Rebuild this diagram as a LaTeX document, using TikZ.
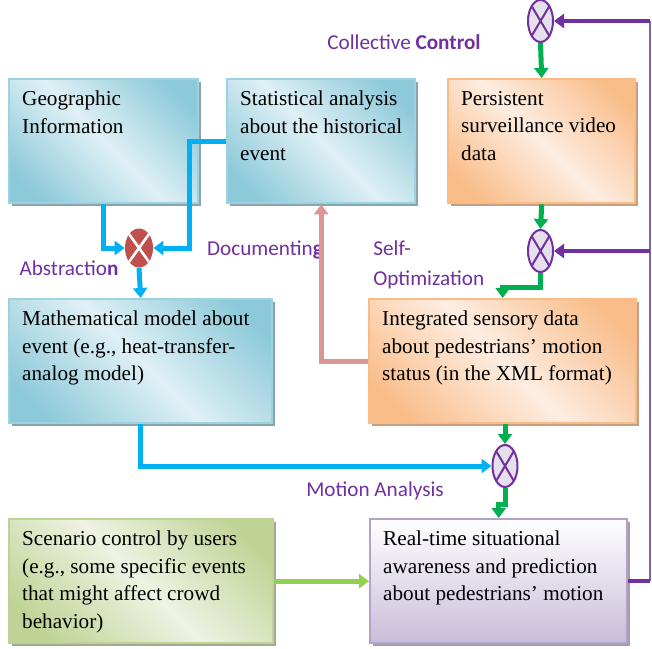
\documentclass[tikz,border=0pt]{standalone}
\usepackage{fontspec}
\setmainfont{Liberation Serif}[Ligatures=TeX]
\newfontfamily\boxfont{Liberation Serif}[Ligatures=TeX]
\newfontfamily\labelfont{Carlito}
\usetikzlibrary{shapes.geometric,shadows,arrows.meta}

\definecolor{bluedark}{HTML}{8CC9D9}
\definecolor{bluelight}{HTML}{DFF0F5}
\definecolor{blueborder}{HTML}{9DD3E0}
\definecolor{blueshadow}{HTML}{8AA4AC}
\definecolor{orangedark}{HTML}{F9BD89}
\definecolor{orangelight}{HTML}{FDEDE1}
\definecolor{orangeborder}{HTML}{F9BC87}
\definecolor{orangeshadow}{HTML}{C4A086}
\definecolor{greendark}{HTML}{BFD394}
\definecolor{greenlight}{HTML}{EEF3E3}
\definecolor{greenborder}{HTML}{BFD296}
\definecolor{greenshadow}{HTML}{A3AA93}
\definecolor{lavenderdark}{HTML}{C8BCD8}
\definecolor{lavenderborder}{HTML}{B3A2C7}
\definecolor{lavendershadow}{HTML}{A69CB0}
\definecolor{flowblue}{HTML}{00B0F0}
\definecolor{flowgreen}{HTML}{00B050}
\definecolor{flowlime}{HTML}{92D050}
\definecolor{flowpurple}{HTML}{7030A0}
\definecolor{railpurple}{HTML}{8064A2}
\definecolor{flowpink}{HTML}{DA9694}
\definecolor{mixfill}{HTML}{E6E0EC}
\definecolor{sumred}{HTML}{C0504D}

\pgfdeclarehorizontalshading{blueglass}{100bp}{color(0bp)=(bluedark); color(22bp)=(bluedark); color(50bp)=(bluelight); color(78bp)=(bluedark); color(100bp)=(bluedark)}
\pgfdeclarehorizontalshading{orangeglass}{100bp}{color(0bp)=(orangedark); color(22bp)=(orangedark); color(50bp)=(orangelight); color(78bp)=(orangedark); color(100bp)=(orangedark)}
\pgfdeclarehorizontalshading{greenglass}{100bp}{color(0bp)=(greendark); color(22bp)=(greendark); color(50bp)=(greenlight); color(78bp)=(greendark); color(100bp)=(greendark)}
\pgfdeclareverticalshading{lavenderglass}{100bp}{color(0bp)=(lavenderdark); color(25bp)=(lavenderdark); color(75bp)=(white); color(100bp)=(white)}

\newcommand{\boxtext}[2]{\parbox[c][50pt][t]{#1}{\raggedright\boxfont\fontsize{10.6}{13.75}\selectfont #2}}

\tikzset{
    box/.style={anchor=north west, draw=#1border, line width=1.2pt,
        shading=#1glass, shading angle=45, inner xsep=6.5pt, inner ysep=6pt,
        drop shadow={shadow xshift=1.5pt, shadow yshift=-1.5pt, opacity=1, fill=#1shadow}},
    mixer/.style={ellipse, draw=flowpurple, line width=1pt, fill=mixfill,
        minimum width=12.5pt, minimum height=21pt, inner sep=0pt,
        path picture={\draw[flowpurple, line width=1pt]
            (path picture bounding box.north west) -- (path picture bounding box.south east)
            (path picture bounding box.north east) -- (path picture bounding box.south west);}},
    summer/.style={ellipse, fill=sumred, minimum width=14pt, minimum height=19.5pt, inner sep=0pt,
        path picture={\draw[white, line width=1.3pt]
            (path picture bounding box.north west) -- (path picture bounding box.south east)
            (path picture bounding box.north east) -- (path picture bounding box.south west);}},
    tag/.style={text=flowpurple, font=\labelfont\fontsize{10.6}{15}\selectfont, inner sep=0pt},
    flow/.style={line width=2.5pt, -{Triangle[length=5pt,width=7pt]}, #1}
}

\begin{document}
\begin{tikzpicture}[x=0.5pt, y=-0.5pt]
    \useasboundingbox (0,0) rectangle (652,648);

    \node [box=blue] (geo) at (8,78) {\boxtext{81.5pt}{Geographic\\Information}};
    \node [box=blue] (stat) at (226,78) {\boxtext{81pt}{Statistical analysis\\about the historical\\event}};
    \node [box=orange] (video) at (447,78) {\boxtext{80.5pt}{Persistent\\surveillance video\\data}};
    \node [box=blue] (model) at (8,298) {\boxtext{118.5pt}{Mathematical model about\\event (e.g., heat-transfer-\\analog model)}};
    \node [box=orange] (sensor) at (368,298) {\boxtext{120.5pt}{Integrated sensory data\\about pedestrians' motion\\status (in the XML format)}};
    \node [box=green] (scenario) at (8,518) {\boxtext{119pt}{Scenario control by users\\(e.g., some specific events\\that might affect crowd\\behavior)}};
    \node [box=lavender, shading angle=0] (awareness) at (369,518) {\boxtext{115.5pt}{Real-time situational\\awareness and prediction\\about pedestrians' motion}};

    \node [mixer] (mixtop) at (540.5,21) {};
    \node [mixer] (mixmid) at (540.5,251) {};
    \node [mixer] (mixlow) at (505,466) {};
    \node [summer] (mixsum) at (139,248) {};

    \node [tag] (collective) at (404,42) {Collective \textbf{Control}};
    \node [tag] (abstraction) at (69,268) {Abstractio\textbf{n}};
    \node [tag] (documenting) at (265,250) {Documentin\textbf{g}};
    \node [tag, anchor=west, align=left] (selfopt) at (373,265) {Self-\\Optimization};
    \node [tag] (motion) at (375,491) {Motion Analysis};

    \coordinate (rail) at (650,0);

    \draw [flow=flowblue] (geo.south) |- (mixsum.west);
    \draw [flow=flowblue] (stat.west) -- ++(-37,0) |- (mixsum.east);
    \draw [flow=flowblue] (mixsum.south) -- (model.north);
    \draw [flow=flowblue] (model.south) |- (mixlow.west);

    \draw [flow=flowgreen] (mixtop.south) -- (video.north);
    \draw [flow=flowgreen] (video.south) -- (mixmid.north);
    \draw [flow=flowgreen] (mixmid.south) -- ++(0,14) -| (sensor.north);
    \draw [flow=flowgreen] (mixlow.north |- sensor.south) -- (mixlow.north);
    \draw [flow=flowgreen] (mixlow.south) -- ++(0,16) -| (awareness.north);

    \draw [flow=flowpink] (sensor.west) -| (stat.south);
    \draw [flow=flowlime] (scenario.east) -- (awareness.west);

    \draw [railpurple, line width=0.8pt] (mixtop.east -| rail) -- (awareness.east -| rail);
    \draw [flow=flowpurple, line width=2pt] (mixtop.east -| rail) -- (mixtop.east);
    \draw [flow=flowpurple, line width=2pt] (mixmid.east -| rail) -- (mixmid.east);
    \draw [flowpurple, line width=2pt] (awareness.east) -- (awareness.east -| rail);
\end{tikzpicture}
\end{document}
